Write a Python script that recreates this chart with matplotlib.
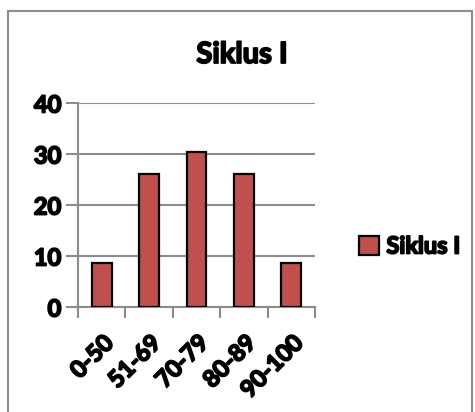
import numpy as np
import matplotlib.pyplot as plt
import matplotlib.patheffects as pe
from matplotlib.patches import Rectangle
from matplotlib.ticker import FixedLocator

# data
kategori = ["0-50", "51-69", "70-79", "80-89", "90-100"]
siklus1 = [8.7, 26.1, 30.4, 26.1, 8.7]
yticks = [0, 10, 20, 30, 40]

plt.rcParams['font.family'] = ['Lato', 'DejaVu Sans']
W = 'bold'
tebal = [pe.withStroke(linewidth=1.3, foreground='black')]

fig = plt.figure(figsize=(4.75, 4.12), dpi=100)
fig.patches.append(Rectangle((8/475, -0.02), 464/475, 1.02 - 11/412, transform=fig.transFigure,
                             fill=False, edgecolor='#8c8c8c', linewidth=1.5))

ax = fig.add_axes([78/475, 1 - 307/412, 237/475, 204/412])
x = np.arange(len(kategori))
ax.bar(x, siklus1, width=0.42, color='#C0504D', edgecolor='black', linewidth=1.6,
       label='Siklus I', zorder=3)

ax.set_xlim(-0.5, len(kategori) - 0.5)
ax.set_ylim(0, 40)
ax.set_yticks(yticks)
ax.set_yticklabels([str(v) for v in yticks], fontsize=17, fontweight=W)
ax.yaxis.grid(True, color='#8c8c8c', linewidth=1.5, zorder=0)
ax.tick_params(axis='y', length=9, width=1.5, color='#8c8c8c', pad=3)

ax.set_xticks(x)
ax.set_xticklabels(kategori, rotation=45, ha='right', rotation_mode='anchor',
                   fontsize=17, fontweight=W)
ax.tick_params(axis='x', which='major', length=0, pad=17)
ax.xaxis.set_minor_locator(FixedLocator(np.arange(-0.5, len(kategori), 1.0)))
ax.tick_params(axis='x', which='minor', length=8, width=1.5, color='#8c8c8c')

for lab in ax.get_xticklabels() + ax.get_yticklabels():
    lab.set_path_effects(tebal)

for s in ['top', 'right']:
    ax.spines[s].set_visible(False)
for s in ['left', 'bottom']:
    ax.spines[s].set_color('#8c8c8c')
    ax.spines[s].set_linewidth(1.5)

fig.text(242/475, 1 - 55/412, 'Siklus I', ha='center', va='center', fontsize=21,
         fontweight=W, path_effects=tebal)

leg = fig.legend(loc='center left', bbox_to_anchor=(338/475, 1 - 246/412), frameon=False,
                 prop={'size': 17, 'weight': W}, handlelength=0.85, handleheight=0.85,
                 handletextpad=0.3)
for t in leg.get_texts():
    t.set_path_effects(tebal)

fig.savefig('out.png', dpi=100)
